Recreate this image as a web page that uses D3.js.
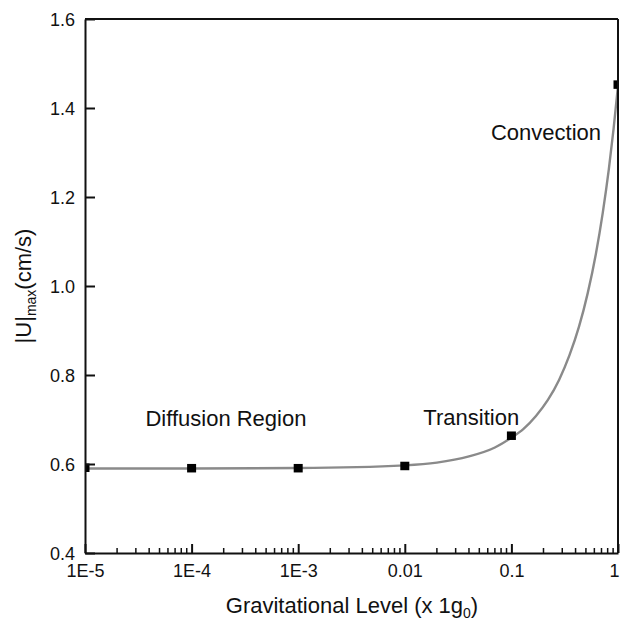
<!DOCTYPE html>
<html><head><meta charset="utf-8">
<script src="https://cdn.jsdelivr.net/npm/d3@7"></script>
<style>
html,body{margin:0;padding:0;background:#fff;}
text{font-family:"Liberation Sans",Arial,sans-serif;fill:#111;}
</style></head>
<body>
<svg id="chart" width="620" height="622"></svg>
<script>
// ---- data ----
const gLevel = [1e-5, 1e-4, 1e-3, 0.01, 0.1, 1];
const uMax   = [0.591, 0.590, 0.590, 0.595, 0.663, 1.452];
// fitted curve
const fitG = [1e-5, 1e-4, 1e-3, 0.01, 0.02, 0.04, 0.07, 0.1, 0.13, 0.17, 0.22, 0.28, 0.35, 0.43, 0.52, 0.62, 0.72, 0.82, 0.91, 1];
const fitU = [0.590, 0.590, 0.591, 0.597, 0.603, 0.617, 0.637, 0.659, 0.679, 0.708, 0.744, 0.789, 0.844, 0.908, 0.984, 1.072, 1.165, 1.262, 1.354, 1.450];
const xTickValues = [1e-5, 1e-4, 1e-3, 0.01, 0.1, 1];
const xTickLabels = ["1E-5", "1E-4", "1E-3", "0.01", "0.1", "1"];
const yTickValues = [0.4, 0.6, 0.8, 1.0, 1.2, 1.4, 1.6];
const yTickLabels = ["0.4", "0.6", "0.8", "1.0", "1.2", "1.4", "1.6"];
const annotations = [
  {text: "Diffusion Region", g: 2.1e-4, u: 0.685},
  {text: "Transition", g: 0.042, u: 0.688},
  {text: "Convection", g: 0.211, u: 1.328}
];

// ---- layout ----
const W = 620, H = 622;
const m = {left: 85, right: 2, top: 19, bottom: 69};
const iw = W - m.left - m.right, ih = H - m.top - m.bottom;
const svg = d3.select("#chart");
const g = svg.append("g").attr("transform", `translate(${m.left},${m.top})`);

const x = d3.scaleLog().domain([1e-5, 1]).range([0, iw]);
const y = d3.scaleLinear().domain([0.4, 1.6]).range([ih, 0]);

svg.append("defs").append("clipPath").attr("id", "clip")
  .append("rect").attr("x", 0).attr("y", 0).attr("width", iw).attr("height", ih);

// curve
const line = d3.line().x(d => x(d[0])).y(d => y(d[1])).curve(d3.curveMonotoneX);
g.append("path").datum(fitG.map((v, i) => [v, fitU[i]]))
  .attr("clip-path", "url(#clip)")
  .attr("d", line).attr("fill", "none").attr("stroke", "#8a8a8a").attr("stroke-width", 2.4);

// markers
g.append("g").attr("clip-path", "url(#clip)").selectAll("rect")
  .data(gLevel.map((v, i) => [v, uMax[i]])).join("rect")
  .attr("x", d => x(d[0]) - 4.5).attr("y", d => y(d[1]) - 4.5)
  .attr("width", 9).attr("height", 8.5).attr("fill", "#000");

// x axis (ticks inside)
const minor = x.ticks().filter(v => !xTickValues.some(t => Math.abs(Math.log10(v) - Math.log10(t)) < 1e-6));
const xa = g.append("g").attr("transform", `translate(0,${ih})`);
xa.call(d3.axisBottom(x).tickValues(xTickValues).tickFormat((d, i) => xTickLabels[i]).tickSizeInner(-9).tickSizeOuter(0));
xa.append("g").selectAll("line").data(minor).join("line")
  .attr("x1", d => x(d)).attr("x2", d => x(d)).attr("y1", 0).attr("y2", -5)
  .attr("stroke", "#111").attr("stroke-width", 1.5);
xa.selectAll(".tick text").attr("dy", null).attr("y", 24).style("font-size", "18px")
  .attr("font-family", "Liberation Sans, Arial, sans-serif").attr("fill", "#111")
  .attr("x", (d, i) => i === xTickValues.length - 1 ? -4 : 0);

// y axis (ticks inside)
const ya = g.append("g");
ya.call(d3.axisLeft(y).tickValues(yTickValues).tickFormat((d, i) => yTickLabels[i]).tickSizeInner(-10).tickSizeOuter(0));
ya.selectAll(".tick text").attr("x", -10).attr("dy", "0.35em").style("font-size", "18px")
  .attr("font-family", "Liberation Sans, Arial, sans-serif").attr("fill", "#111");

svg.selectAll(".domain").attr("stroke", "#111").attr("stroke-width", 2);
svg.selectAll(".tick line").attr("stroke", "#111").attr("stroke-width", 2);

// frame top & right
g.append("line").attr("x1", 0).attr("x2", iw).attr("y1", 0).attr("y2", 0).attr("stroke", "#111").attr("stroke-width", 2);
g.append("line").attr("x1", iw).attr("x2", iw).attr("y1", 0).attr("y2", ih).attr("stroke", "#111").attr("stroke-width", 2);

// annotations
g.selectAll("text.ann").data(annotations).join("text").attr("class", "ann")
  .attr("x", d => x(d.g)).attr("y", d => y(d.u)).attr("text-anchor", "middle")
  .style("font-size", "22px").text(d => d.text);

// axis titles
const xt = svg.append("text").attr("x", 352).attr("y", 613).attr("text-anchor", "middle").style("font-size", "22px");
xt.append("tspan").text("Gravitational Level (x 1g");
xt.append("tspan").attr("dy", 5).style("font-size", "14px").text("0");
xt.append("tspan").attr("dy", -5).text(")");

const yt = svg.append("text").attr("transform", `translate(31,${m.top + ih / 2}) rotate(-90)`)
  .attr("text-anchor", "middle").style("font-size", "22px");
yt.append("tspan").text("|U|");
yt.append("tspan").attr("dy", 5).style("font-size", "14px").text("max");
yt.append("tspan").attr("dy", -5).text("(cm/s)");
</script>
</body></html>
